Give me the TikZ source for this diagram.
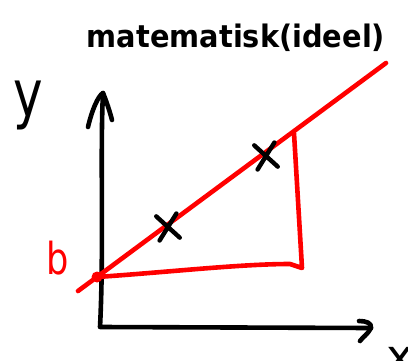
\documentclass[tikz,border=0pt]{standalone}
\usepackage{fontspec}
\setmainfont{DejaVu Sans}
\usetikzlibrary{shapes.misc}
\definecolor{pen}{RGB}{255,0,0}
\begin{document}
\begin{tikzpicture}[x=1pt,y=-1pt,
  ink/.style={line width=4.6pt,line cap=round,line join=round},
  redink/.style={ink,draw=pen},
  xmark/.style={cross out,draw=black,line width=4.4pt,line cap=round,minimum width=16pt,minimum height=20pt,inner sep=0pt,rotate=8}]
\useasboundingbox (0,0) rectangle (408,360);
% axes
\coordinate (O) at (100,327);
\coordinate (Ytip) at (103,93);
\coordinate (Xtip) at (371,328);
\draw[ink] (Ytip) .. controls (100,150) and (104,250) .. (O) -- (Xtip);
\draw[ink] (88,127) .. controls (92,110) and (98,96) .. (Ytip) .. controls (106,100) and (110,112) .. (112,120);
\draw[ink] (359,321) .. controls (366,321) and (372,323) .. (Xtip) .. controls (368,334) and (362,338) .. (360,341);
% labels
\node[font=\fontsize{50}{50}\selectfont,yscale=1.3] (ylab) at (28,105) {y};
\node[font=\fontsize{46}{46}\selectfont] (xlab) at (400,360) {x};
\node[font=\fontsize{44}{44}\selectfont,text=pen,xscale=0.8] (blab) at (58,258) {b};
\node[font=\fontsize{31}{31}\selectfont\bfseries,xscale=0.93] (title) at (236,38) {matematisk(ideel)};
% red line and triangle
\coordinate (B) at (97,277);
\coordinate (Ls) at (78,291);
\coordinate (Le) at (386,63);
\coordinate (T) at (294,133);
\coordinate (R) at (302,268);
\draw[redink] (Ls) -- (Le);
\draw[redink] (B) .. controls (170,272) and (240,264) .. (290,264) -- (R) -- (T);
\fill[pen] (B) circle (5.5pt);
% data points
\node[xmark] (p1) at (168,227) {};
\node[xmark] (p2) at (266,156) {};
\end{tikzpicture}
\end{document}
